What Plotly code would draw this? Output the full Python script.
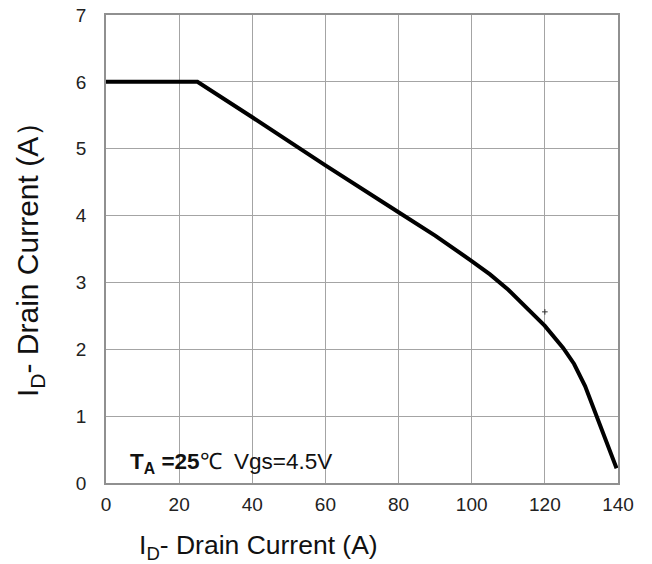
import plotly.graph_objects as go

# Curve (x: A, y: A)
curve_x = [0, 25, 40, 60, 80, 90, 100, 105, 110, 115, 120, 125, 128, 131, 134, 137, 139.6]
curve_y = [6.0, 6.0, 5.47, 4.75, 4.05, 3.70, 3.32, 3.12, 2.89, 2.63, 2.35, 2.02, 1.78, 1.45, 1.03, 0.60, 0.22]

# small stray mark in the reference
mark_x = [120]
mark_y = [2.56]

x_ticks = [0, 20, 40, 60, 80, 100, 120, 140]
y_ticks = [0, 1, 2, 3, 4, 5, 6, 7]

fig = go.Figure()
fig.add_trace(go.Scatter(x=curve_x, y=curve_y, mode="lines",
                         line=dict(color="black", width=4),
                         hoverinfo="skip", showlegend=False))
fig.add_trace(go.Scatter(x=mark_x, y=mark_y, mode="markers",
                         marker=dict(symbol="cross-thin", size=4, line=dict(color="#333", width=1)),
                         showlegend=False, hoverinfo="skip"))

font_family = "Liberation Sans, Arial, sans-serif"

fig.update_layout(
    width=652, height=564,
    margin=dict(l=106, r=34, t=15, b=81, autoexpand=False),
    paper_bgcolor="white", plot_bgcolor="white",
    font=dict(family=font_family, color="#222"),
    xaxis=dict(range=[0, 140], tickvals=x_ticks, ticktext=[str(v) for v in x_ticks],
               showgrid=True, gridcolor="#a4a4a4", gridwidth=1.2,
               showline=True, linecolor="#909090", linewidth=1.5, mirror=True,
               zeroline=False, ticks="", tickfont=dict(size=19, color="#222"),
               ticklabelstandoff=3, automargin=False),
    yaxis=dict(range=[0, 7], tickvals=y_ticks, ticktext=[str(v) for v in y_ticks],
               showgrid=True, gridcolor="#a4a4a4", gridwidth=1.2,
               showline=True, linecolor="#909090", linewidth=1.5, mirror=True,
               zeroline=False, ticks="", tickfont=dict(size=19, color="#222"),
               ticklabelstandoff=14, automargin=False),
    annotations=[
        dict(text="I<sub>D</sub>- Drain Current (A)", xref="paper", yref="paper",
             x=0.297, y=-0.137, xanchor="center", yanchor="middle", showarrow=False,
             font=dict(size=26.5, color="#111", family=font_family)),
        dict(text="I<sub>D</sub>- Drain Current (A）", xref="paper", yref="paper",
             x=-0.148, y=0.494, xanchor="center", yanchor="middle", showarrow=False,
             textangle=-90, font=dict(size=30, color="#111", family=font_family)),
        dict(text="<b>T<sub>A</sub> =25</b>℃  Vgs=4.5V", xref="x", yref="y",
             x=6.0, y=0.3, xanchor="left", yanchor="middle", showarrow=False,
             font=dict(size=22.5, color="#111", family=font_family)),
    ],
)

fig.write_html("out.html", post_script="document.body.style.margin='0';",
               config={"displayModeBar": False})
